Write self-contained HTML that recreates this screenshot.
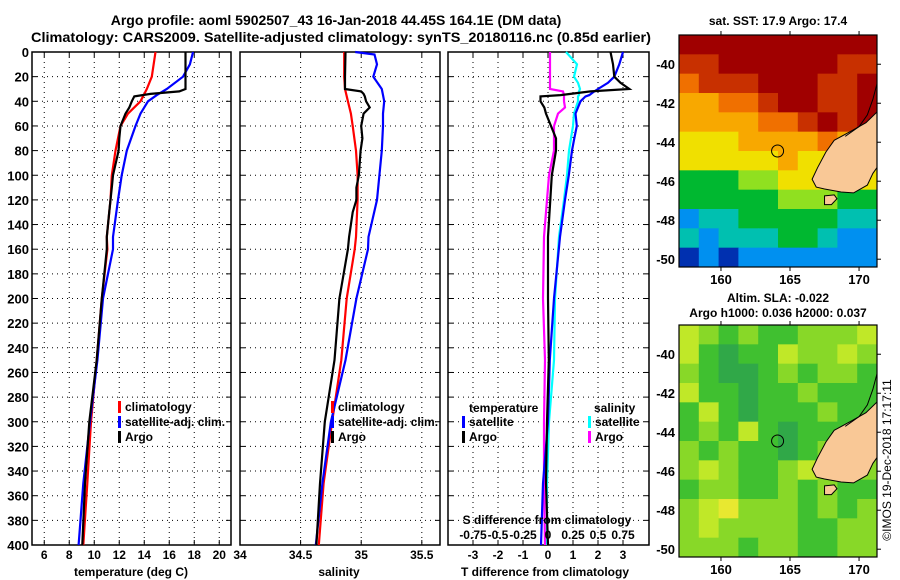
<!DOCTYPE html>
<html><head><meta charset="utf-8"><style>
html,body{margin:0;padding:0;background:#fff;}
svg{display:block;font-family:"Liberation Sans",sans-serif;font-weight:bold;}
</style></head><body>
<svg id="fig" width="900" height="580" viewBox="0 0 900 580" xmlns="http://www.w3.org/2000/svg">
<text x="336" y="25" font-size="14" text-anchor="middle">Argo profile: aoml 5902507_43 16-Jan-2018 44.45S 164.1E (DM data)</text>
<text x="341" y="42" font-size="14" text-anchor="middle" textLength="620" lengthAdjust="spacingAndGlyphs">Climatology: CARS2009. Satellite-adjusted climatology: synTS_20180116.nc (0.85d earlier)</text>
<text x="778" y="25" font-size="12" text-anchor="middle">sat. SST: 17.9 Argo: 17.4</text>
<text x="778" y="302" font-size="12" text-anchor="middle">Altim. SLA: -0.022</text>
<text x="778" y="317" font-size="12" text-anchor="middle">Argo h1000: 0.036 h2000: 0.037</text>
<text transform="translate(891,460) rotate(-90)" font-size="12" font-weight="normal" text-anchor="middle">©IMOS 19-Dec-2018 17:17:11</text>
<g id="plots"></g>
</svg>
<script>
// ---------- data ----------
const depthTicks = [0,20,40,60,80,100,120,140,160,180,200,220,240,260,280,300,320,340,360,380,400];
const tempTicks = [6,8,10,12,14,16,18,20];
const salTicks = [34,34.5,35,35.5];
const tdiffTicks = [-3,-2,-1,0,1,2,3];
const sdiffTicks = [-0.75,-0.5,-0.25,0,0.25,0.5,0.75];
const sdiffLabels = ["-0.75","-0.5","-0.25","0","0.25","0.5","0.75"];

const depthClim = [0,20,30,40,50,60,80,100,120,150,160,200,250,300,350,400];
const tempClim  = [14.9,14.6,14.2,13.7,12.7,12.1,11.7,11.4,11.3,11.0,11.05,10.6,10.2,9.74,9.44,9.12];
const salClim   = [34.86,34.86,34.866,34.89,34.915,34.93,34.957,34.97,34.97,34.957,34.946,34.88,34.836,34.76,34.69,34.65];

const depthSat = [0,2,10,20,30,35,40,50,60,80,100,120,150,160,200,250,300,350,400];
const tempSat  = [17.9,17.85,17.65,17.1,15.8,15.0,14.3,13.7,13.3,12.6,12.2,11.9,11.5,11.5,10.7,10.25,9.66,9.12,8.75];
const salSat   = [34.95,35.11,35.13,35.1,35.17,35.18,35.19,35.18,35.18,35.17,35.15,35.13,35.06,35.056,34.96,34.87,34.75,34.68,34.625];

const depthArgo = [0,20,30,32,34,36,40,45,50,60,70,80,100,110,120,130,150,160,200,250,300,350,400];
const tempArgo  = [17.3,17.3,17.3,16.8,14.5,13.2,13.0,12.8,12.5,12.1,12.0,11.95,11.5,11.4,11.3,11.2,11.0,11.0,10.6,10.2,9.6,9.26,9.04];
const salArgo   = [34.87,34.866,34.866,35.0,35.02,35.03,35.04,35.07,35.02,35.0,35.01,34.995,34.98,34.96,34.96,34.93,34.9,34.89,34.82,34.78,34.70,34.66,34.63];

const depthDiff = [0,10,20,25,30,32,35,36,40,45,50,60,70,80,100,120,150,200,250,300,350,400];
const tdiffSat  = [3.0,2.85,2.65,2.4,2.0,1.85,1.65,1.5,1.3,1.2,1.1,1.15,1.05,0.96,0.83,0.68,0.48,0.24,0.07,0.0,-0.2,-0.28];
const sdiffSat  = [0.18,0.29,0.26,0.3,0.32,0.31,0.31,0.3,0.3,0.28,0.26,0.25,0.23,0.21,0.19,0.16,0.11,0.07,0.06,0.01,-0.01,-0.01];
const tdiffArgo = [2.5,2.6,2.65,2.9,3.25,1.7,0.5,-0.3,-0.3,-0.15,-0.08,0.12,0.32,0.32,0.15,0.09,0.0,0.0,0.03,-0.04,-0.08,0.0];
const sdiffArgo = [0.02,0.02,0.02,0.02,0.02,0.15,0.16,0.16,0.16,0.17,0.1,0.06,0.06,0.06,0.01,-0.01,-0.04,-0.05,-0.03,-0.04,-0.04,-0.03];

const lonTicks = [160,165,170];
const latTicks = [-40,-42,-44,-46,-48,-50];
const sstGrid = [
 [9,9,9,9,9,9,9,9,9,9],
 [8,8,9,9,9,9,9,9,8,8],
 [7,8,8,8,9,9,9,8,8,9],
 [6,6,7,7,8,9,9,8,8,9],
 [6,6,6,6,7,7,8,9,8,9],
 [5,5,5,6,6,6,6,7,6,9],
 [5,5,5,5,5,6,5,5,5,5],
 [3,3,3,4,4,5,5,5,4,5],
 [3,3,3,3,3,4,4,4,3,3],
 [1,2,2,3,3,3,3,3,2,2],
 [2,1,2,2,2,3,3,2,1,1],
 [0,1,0,1,1,1,1,1,1,1]];
const slaGrid = [
 [3,2,1,2,1,1,2,2,2,3],
 [3,1,0,1,1,3,2,2,3,2],
 [2,1,0,0,1,2,1,2,2,1],
 [3,1,1,0,1,1,2,1,1,1],
 [1,3,1,0,1,1,1,2,1,1],
 [1,2,1,3,1,0,1,1,1,1],
 [2,1,2,1,1,0,1,2,2,2],
 [2,3,2,1,1,2,3,2,1,2],
 [1,2,2,1,1,2,1,2,1,1],
 [2,3,4,2,2,2,1,2,1,2],
 [2,3,2,2,2,2,1,1,2,2],
 [2,2,2,1,2,2,1,1,2,2]];
const landLon = [171.3,170.5,169.5,168.2,167.6,167.0,166.6,166.9,167.5,168.7,169.6,170.6,171.0,171.3];
const landLat = [-42.45,-43.0,-43.4,-43.9,-44.5,-45.3,-45.9,-46.3,-46.4,-46.55,-46.6,-46.2,-45.6,-45.3];
const stewLon = [167.5,168.2,168.4,168.0,167.5];
const stewLat = [-46.75,-46.7,-46.9,-47.2,-47.2];
const coastLon = [171.3,171.0,170.6,170.0,169.0];
const coastLat = [-41.0,-41.8,-42.6,-43.2,-43.7];
const argoLon = 164.1, argoLat = -44.45;

// ---------- rendering ----------
const NS="http://www.w3.org/2000/svg";
const root=document.getElementById('plots');
function el(tag,attrs,parent){const e=document.createElementNS(NS,tag);for(const k in attrs)e.setAttribute(k,attrs[k]);(parent||root).appendChild(e);return e;}
const Y0=52,Y1=545;
const yD=d=>Y0+(d/400)*(Y1-Y0);

function panel(name,x0,x1,xmin,xmax,xt){
  const g=el('g',{});
  
  
  const sx=v=>x0+(v-xmin)/(xmax-xmin)*(x1-x0);
  for(const t of xt){const x=sx(t);if(x>x0+2&&x<x1-2){const l=el('line',{x1:x,x2:x,y1:Y0,y2:Y1,stroke:'#000','stroke-width':1,'stroke-dasharray':'1,4'},g);
    el('line',{x1:x,x2:x,y1:Y1,y2:Y1-5,stroke:'#000'},g);el('line',{x1:x,x2:x,y1:Y0,y2:Y0+5,stroke:'#000'},g);}}
  for(const d of depthTicks){const y=yD(d);if(d>0&&d<400){const l=el('line',{x1:x0,x2:x1,y1:y,y2:y,stroke:'#000','stroke-width':1,'stroke-dasharray':'1,4'},g);}
    el('line',{x1:x0,x2:x0+5,y1:y,y2:y,stroke:'#000'},g);el('line',{x1:x1-5,x2:x1,y1:y,y2:y,stroke:'#000'},g);}
  const r=el('rect',{x:x0,y:Y0,width:x1-x0,height:Y1-Y0,fill:'none',stroke:'#000','stroke-width':1.5},g);
  
  return {g,sx};
}
function series(p,name,xs,ds,color,clip){
  const pts=xs.map((v,i)=>p.sx(v).toFixed(1)+','+yD(ds[i]).toFixed(1)).join(' ');
  const l=el('polyline',{points:pts,fill:'none',stroke:color,'stroke-width':2.2},p.g);
  
  
}
function txt(s,x,y,size,anchor,name,parent){const t=el('text',{x:x,y:y,'font-size':size,'text-anchor':anchor||'start'},parent);t.textContent=s;return t;}
function legend(x,y,color,label,name){
  const r=el('rect',{x:x,y:y-10,width:3,height:12,fill:color});
  txt(label,x+7,y,12,'start',name);
}

// panel 1 temperature
const p1=panel('temperature-panel',32,231,5.02,20.94,tempTicks);
for(const d of depthTicks)txt(String(d),29,yD(d)+5,13,'end','depth-tick-label');
for(const t of tempTicks)txt(String(t),p1.sx(t),559,12,'middle','temp-tick-label');
txt('temperature (deg C)',131,576,12,'middle','temperature-axis-title');
series(p1,'temp-climatology-line',tempClim,depthClim,'#ff0000');
series(p1,'temp-satellite-line',tempSat,depthSat,'#0000ff');
series(p1,'temp-argo-line',tempArgo,depthArgo,'#000000');
legend(118,411,'#ff0000','climatology','legend-climatology');
legend(118,426,'#0000ff','satellite-adj. clim.','legend-satellite');
legend(118,441,'#000000','Argo','legend-argo');

// panel 2 salinity
const p2=panel('salinity-panel',240,440,34.0,35.65,salTicks);
for(const t of salTicks)txt(String(t),p2.sx(t),559,12,'middle','sal-tick-label');
txt('salinity',339,576,12,'middle','salinity-axis-title');
series(p2,'sal-climatology-line',salClim,depthClim,'#ff0000');
series(p2,'sal-satellite-line',salSat,depthSat,'#0000ff');
series(p2,'sal-argo-line',salArgo,depthArgo,'#000000');
legend(331,411,'#ff0000','climatology','legend-climatology-2');
legend(331,426,'#0000ff','satellite-adj. clim.','legend-satellite-2');
legend(331,441,'#000000','Argo','legend-argo-2');

// panel 3 differences
const p3=panel('difference-panel',448,649,-4,4.04,tdiffTicks);
const ps={g:p3.g,sx:v=>p3.sx(v*4)};
for(const t of tdiffTicks)txt(String(t),p3.sx(t),559,12,'middle','tdiff-tick-label');
txt('T difference from climatology',545,576,12,'middle','tdiff-axis-title');
sdiffTicks.forEach((t,i)=>txt(sdiffLabels[i],ps.sx(t),539,12,'middle','sdiff-tick-label'));
txt('S difference from climatology',547,524,12,'middle','sdiff-axis-title');
series(ps,'sdiff-satellite-line',sdiffSat,depthDiff,'#00ffff');
series(ps,'sdiff-argo-line',sdiffArgo,depthDiff,'#ff00ff');
series(p3,'tdiff-satellite-line',tdiffSat,depthDiff,'#0000ff');
series(p3,'tdiff-argo-line',tdiffArgo,depthDiff,'#000000');
txt('temperature',469,412,12,'start','legend-temperature-header');
legend(462,426,'#0000ff','satellite','legend-tdiff-satellite');
legend(462,441,'#000000','Argo','legend-tdiff-argo');
txt('salinity',594,412,12,'start','legend-salinity-header');
legend(588,426,'#00ffff','satellite','legend-sdiff-satellite');
legend(588,441,'#ff00ff','Argo','legend-sdiff-argo');

// maps
const sstPal=['#0030b0','#0090f0','#00c0b0','#00b830','#90e020','#f0e000','#f8a800','#f07000','#c83000','#a00000'];
const slaPal=['#30a848','#40c030','#88d828','#c0e828','#e8e830'];
function map(name,top,grid,pal){
  const L=679,R=877,T=top,B=top+232;
  const lon0=156.96,lon1=171.3,lat0=-38.5,lat1=-50.4;
  const mx=v=>L+(v-lon0)/(lon1-lon0)*(R-L);
  const my=v=>T+(v-lat0)/(lat1-lat0)*(B-T);
  const g=el('g',{});
  
  
  const rows=grid.length,cols=grid[0].length,cw=(R-L)/cols,ch=(B-T)/rows;
  grid.forEach((row,i)=>row.forEach((v,j)=>{
    const c=el('rect',{x:L+j*cw,y:T+i*ch,width:cw+0.5,height:ch+0.5,fill:pal[v]},g);
    
    
  }));
  const lp=el('polygon',{points:landLon.map((v,i)=>mx(v)+','+my(landLat[i])).join(' '),fill:'#f9c896',stroke:'#000','stroke-width':1},g);
  
  const sp=el('polygon',{points:stewLon.map((v,i)=>mx(v)+','+my(stewLat[i])).join(' '),fill:'#f9c896',stroke:'#000','stroke-width':1},g);
  
  const cl=el('polyline',{points:coastLon.map((v,i)=>mx(v)+','+my(coastLat[i])).join(' '),fill:'none',stroke:'#000','stroke-width':1},g);
  
  const ac=el('circle',{cx:mx(argoLon),cy:my(argoLat),r:6,fill:'none',stroke:'#000','stroke-width':1},g);
  
  const fr=el('rect',{x:L,y:T,width:R-L,height:B-T,fill:'none',stroke:'#000','stroke-width':1.2},g);
  
  for(const t of lonTicks){const x=mx(t);el('line',{x1:x,x2:x,y1:T,y2:T-4,stroke:'#000'},g);el('line',{x1:x,x2:x,y1:B,y2:B+4,stroke:'#000'},g);txt(String(t),x,B+17,13,'middle','lon-tick-label',g);}
  for(const t of latTicks){const y=my(t);el('line',{x1:R,x2:R+4,y1:y,y2:y,stroke:'#000'},g);txt(String(t),675,y+5,13,'end','lat-tick-label',g);}
}
map('sst-map',35,sstGrid,sstPal);
map('sla-map',325,slaGrid,slaPal);
</script>
</body></html>
